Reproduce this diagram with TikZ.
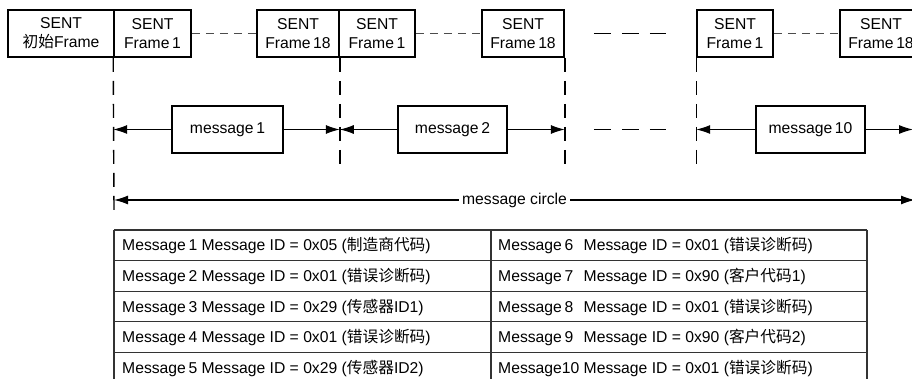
\documentclass[tikz,border=0pt]{standalone}
\usepackage{fontspec}
\setmainfont{Liberation Sans}
\newfontfamily\cjk{Noto Sans CJK SC}
\usetikzlibrary{arrows.meta}

\newcommand{\zh}[1]{{\cjk #1}}
\newcommand{\msgno}[1]{\rlap{#1}\phantom{Message10}}

\tikzset{
    txt/.style={font=\fontsize{15.7}{19}\selectfont},
    framebox/.style={txt, draw, line width=1.6pt, minimum height=47pt, inner sep=0pt, align=center},
    msgbox/.style={txt, draw, line width=1.6pt, minimum height=47pt, inner sep=0pt},
    cell/.style={txt, inner sep=0pt, anchor=base west},
    tip/.style={-{Latex[length=14pt,width=9pt]}, line width=1pt},
    both/.style={{Latex[length=14pt,width=9pt]}-{Latex[length=14pt,width=9pt]}, line width=1.4pt},
    vdash/.style={line width=1.4pt, dash pattern=on 14pt off 9pt},
    hdash/.style={line width=1.2pt, black!70, dash pattern=on 8pt off 6pt},
    gapdash/.style={line width=1.1pt, dash pattern=on 17pt off 11pt},
    grid/.style={black!80, line width=1.1pt},
}

\begin{document}
\begin{tikzpicture}[x=1pt, y=-1pt]
    \useasboundingbox (0,0) rectangle (912,379);

    % frames on the bus
    \node[framebox, minimum width=106pt] (f0)   at (61,33.5)  {SENT\\\zh{初始}Frame};
    \node[framebox, minimum width=77pt]  (f1a)  at (152.5,33.5) {SENT\\Frame\,1};
    \node[framebox, minimum width=82pt]  (f18a) at (298,33.5) {SENT\\Frame\,18};
    \node[framebox, minimum width=76pt]  (f1b)  at (377,33.5) {SENT\\Frame\,1};
    \node[framebox, minimum width=82pt]  (f18b) at (523,33.5) {SENT\\Frame\,18};
    \node[framebox, minimum width=76pt]  (f1c)  at (735,33.5) {SENT\\Frame\,1};
    \node[framebox, minimum width=82pt]  (f18c) at (881,33.5) {SENT\\Frame\,18};

    \draw[hdash] (f1a.east) -- (f18a.west);
    \draw[hdash] (f1b.east) -- (f18b.west);
    \draw[hdash] (f1c.east) -- (f18c.west);
    \draw[gapdash] ([xshift=29pt]f18b.east) -- ([xshift=-30pt]f1c.west);

    % messages
    \node[msgbox, minimum width=111pt] (m1)  at (227.5,129.5) {message\,1};
    \node[msgbox, minimum width=109pt] (m2)  at (452.5,129.5) {message\,2};
    \node[msgbox, minimum width=109pt] (m10) at (810.5,129.5) {message\,10};
    \coordinate (mend) at (913,129.5);

    \coordinate (cl) at (114,200);
    \coordinate (cr) at (915,200);

    % borders between messages
    \draw[vdash] (f1a.south west) -- ([yshift=-10pt]cl);
    \draw[vdash] (f18a.south east) -- ([yshift=-12pt]f18a.south east |- m1.south);
    \draw[vdash] (f18b.south east) -- ([yshift=-12pt]f18b.south east |- m2.south);
    \draw[vdash] (f1c.south west) -- ([yshift=-12pt]f1c.south west |- m10.south);

    \draw[tip] (m1.west) -- (m1.west -| f1a.south west);
    \draw[tip] (m1.east) -- (m1.east -| f18a.south east);
    \draw[tip] (m2.west) -- (m2.west -| f18a.south east);
    \draw[tip] (m2.east) -- (m2.east -| f18b.south east);
    \draw[tip] (m10.west) -- (m10.west -| f1c.south west);
    \draw[tip] (m10.east) -- (mend);
    \draw[gapdash] ([xshift=29pt]m2.east -| f18b.south east) -- ([xshift=-30pt]m10.west -| f1c.south west);

    \draw[both] (cl) -- (cr) node[txt, midway, fill=white, inner sep=3pt] (circ) {message circle};

    % ID table
    \foreach \i in {0,...,5}
        \draw[grid] (114,230+30.6*\i) -- (867,230+30.6*\i);
    \foreach \x in {114,491,867}
        \draw[grid] (\x,230) -- (\x,383);
    \foreach \i/\a/\b in {
        1/{Message\,1 Message ID = 0x05 (\zh{制造商代码})}/{\msgno{Message\,6} Message ID = 0x01 (\zh{错误诊断码})},
        2/{Message\,2 Message ID = 0x01 (\zh{错误诊断码})}/{\msgno{Message\,7} Message ID = 0x90 (\zh{客户代码}1)},
        3/{Message\,3 Message ID = 0x29 (\zh{传感器}ID1)}/{\msgno{Message\,8} Message ID = 0x01 (\zh{错误诊断码})},
        4/{Message\,4 Message ID = 0x01 (\zh{错误诊断码})}/{\msgno{Message\,9} Message ID = 0x90 (\zh{客户代码}2)},
        5/{Message\,5 Message ID = 0x29 (\zh{传感器}ID2)}/{Message10 Message ID = 0x01 (\zh{错误诊断码})}} {
        \node[cell] (l\i) at (122,214.7+30.6*\i+5.5) {\a};
        \node[cell] (r\i) at (498,214.7+30.6*\i+5.5) {\b};
    }
\end{tikzpicture}
\end{document}
